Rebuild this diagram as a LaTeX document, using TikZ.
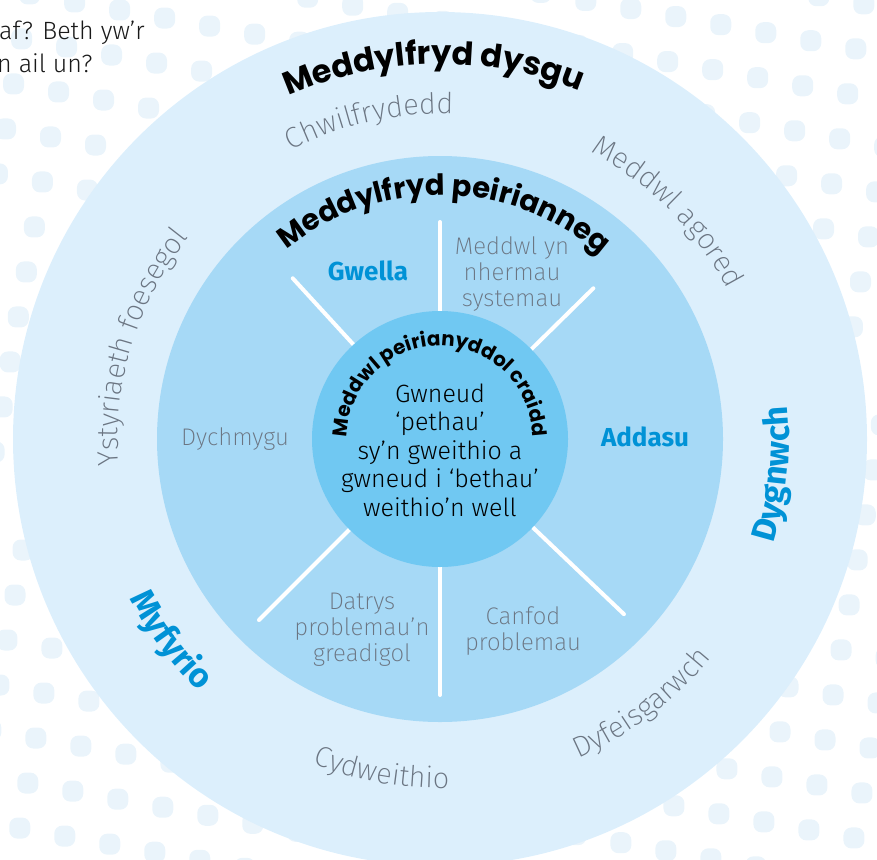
\documentclass[tikz,border=0pt]{standalone}
\usepackage{fontspec}
\setmainfont{Fira Sans}
\newfontfamily\lightfont{Fira Sans Light}
\newfontfamily\thinfont{Fira Sans ExtraLight}
\newfontfamily\headfont{Poppins}
\usetikzlibrary{decorations.text}

\definecolor{ringOuter}{HTML}{DCEFFC}
\definecolor{ringMid}{HTML}{A6D9F6}
\definecolor{ringCore}{HTML}{70C8F2}
\definecolor{dotBlue}{HTML}{EAF4FB}
\definecolor{labelBlue}{HTML}{0092D6}
\definecolor{softGray}{HTML}{6B7582}

\tikzset{
  divider/.style={white, line width=4pt, line cap=round},
  thinlabel/.style={font=\thinfont\fontsize{24}{26}\selectfont, text=softGray, align=center, inner sep=0pt},
  keylabel/.style={font=\bfseries\fontsize{26}{28}\selectfont, text=labelBlue, inner sep=0pt},
  corelabel/.style={font=\lightfont\fontsize{25}{28.5}\selectfont, text=black, align=center, inner sep=0pt},
  introlabel/.style={font=\lightfont\fontsize{25}{30}\selectfont, text=black!90, inner sep=0pt, anchor=base west},
}

% text on a clockwise arc (letters facing outward)
\newcommand\ringtextcw[5]{%
  \pgfmathsetmacro\rtA{#1+#3}\pgfmathsetmacro\rtB{#1-#3}%
  \path[decorate, decoration={text along path, text align=center, text={|#4|#5}}]
    ([shift={(\rtA:#2)}]c) arc[start angle=\rtA, end angle=\rtB, radius=#2];}
% text on a counter-clockwise arc (letters facing inward)
\newcommand\ringtextccw[5]{%
  \pgfmathsetmacro\rtA{#1-#3}\pgfmathsetmacro\rtB{#1+#3}%
  \path[decorate, decoration={text along path, text align=center, text={|#4|#5}}]
    ([shift={(\rtA:#2)}]c) arc[start angle=\rtA, end angle=\rtB, radius=#2];}

\newcommand\titlefmt{\headfont\bfseries\fontsize{32}{32}\selectfont\color{black}}
\newcommand\midtitlefmt{\headfont\bfseries\fontsize{29}{29}\selectfont\color{black}}
\newcommand\corefmt{\headfont\bfseries\fontsize{20}{20}\selectfont\color{black}}
\newcommand\softfmt{\thinfont\fontsize{29}{29}\selectfont\color{softGray}}
\newcommand\keyfmt{\bfseries\fontsize{34}{34}\selectfont\color{labelBlue}}

\begin{document}
\begin{tikzpicture}[x=1pt, y=1pt]
  \useasboundingbox (0,-859) rectangle (877,0);
  \clip (0,-859) rectangle (877,0);

  % dotted backdrop on a slightly tilted grid
  \foreach \i in {-4,...,21}{
    \foreach \j in {-18,...,8}{
      \pgfmathsetmacro\dx{15+45*\i-8.05*\j}
      \pgfmathsetmacro\dy{-(595+8.05*\i+45*\j)}
      \fill[dotBlue, rounded corners=8pt] (\dx-10.5,\dy-10.5) rectangle ++(21,21);
    }
  }

  \coordinate (c) at (440,-439);

  % rings
  \fill[ringOuter] (c) circle (427);
  \fill[ringMid] (c) circle (283);

  % white spokes of the middle ring
  \draw[divider] ([shift={(90:120)}]c) -- ([shift={(90:217)}]c);
  \draw[divider] ([shift={(44.5:120)}]c) -- ([shift={(44.5:215)}]c);
  \draw[divider] ([shift={(132.5:120)}]c) -- ([shift={(132.5:218)}]c);
  \draw[divider] ([shift={(270:120)}]c) -- ([shift={(270:256)}]c);
  \draw[divider] ([shift={(225:120)}]c) -- ([shift={(225:256)}]c);
  \draw[divider] ([shift={(-43.6:120)}]c) -- ([shift={(-43.6:254)}]c);

  \fill[ringCore] (c) circle (128);

  % intro lines
  \node[introlabel] (intro1) at (-1,-40) {af? Beth yw’r};
  \node[introlabel] (intro2) at (-3,-72) {n ail un?};

  % ring titles
  \ringtextcw{91}{375}{50}{\titlefmt}{Meddylfryd dysgu}
  \ringtextcw{89}{244}{70}{\midtitlefmt}{Meddylfryd peirianneg}
  \ringtextcw{90}{93}{125}{\corefmt}{Meddwl peirianyddol craidd}

  % outer ring qualities
  \ringtextcw{102.5}{325}{40}{\softfmt}{Chwilfrydedd}
  \ringtextcw{45}{324}{40}{\softfmt}{Meddwl agored}
  \ringtextcw{163}{322}{45}{\softfmt}{Ystyriaeth foesegol}
  \ringtextccw{-52.7}{348}{40}{\softfmt}{Dyfeisgarwch}
  \ringtextccw{-100}{349}{40}{\softfmt}{Cydweithio}
  \ringtextccw{-6}{349}{40}{\keyfmt}{Dygnwch}
  \ringtextccw{216.8}{349}{40}{\keyfmt}{Myfyrio}

  % middle ring sectors
  \node[keylabel] (gwella) at (368,-271) {Gwella};
  \node[keylabel] (addasu) at (645,-437) {Addasu};
  \node[thinlabel, anchor=base] (dychmygu) at (235,-445) {Dychmygu};
  \node[thinlabel] (systemau) at (512,-274) {Meddwl yn\\nhermau\\systemau};
  \node[thinlabel] (datrys) at (362,-630) {Datrys\\problemau’n\\greadigol};
  \node[thinlabel] (canfod) at (523,-631) {Canfod\\problemau};

  % core statement
  \node[corelabel] (core) at (440,-450) {Gwneud\\‘pethau’\\sy’n gweithio a\\gwneud i ‘bethau’\\weithio’n well};
\end{tikzpicture}
\end{document}
